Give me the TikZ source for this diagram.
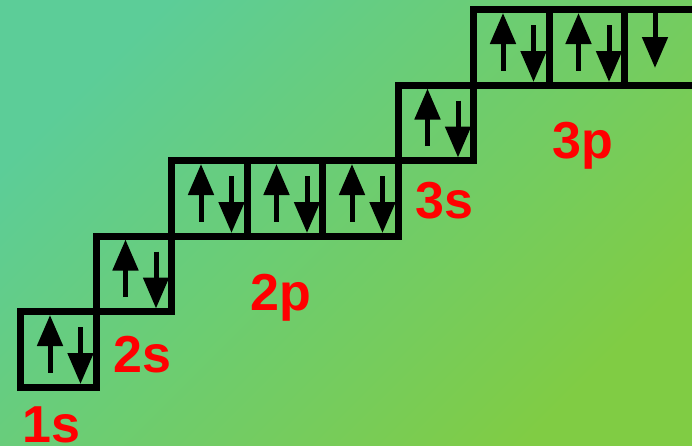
\documentclass[tikz,border=0pt]{standalone}
\usepackage{fontspec}
\setmainfont{Liberation Sans}
\usepackage{xcolor}
\usepackage{tikz}
\usetikzlibrary{calc,arrows.meta,positioning}
\definecolor{bgA}{RGB}{92,205,152}
\definecolor{bgB}{RGB}{128,204,68}

\begin{document}
\begin{tikzpicture}[x=1pt,y=-1pt,
  orb/.style={draw,line width=7pt,minimum size=75.5pt,inner sep=0pt,outer sep=0pt,anchor=north west},
  spin/.style={line width=5pt,-{Triangle[length=31pt,width=25pt]}},
  lbl/.style={text=red,font=\bfseries\fontsize{52}{52}\selectfont,inner sep=0pt,anchor=base west}]
  \useasboundingbox (0,0) rectangle (692,445);
  \shade[top color=bgA,bottom color=bgB,shading angle=45] (0,0) rectangle (692,445);
  % orbital boxes
  \node [orb] (s1) at (20.5,311.5) {};
  \node [orb] (s2) at (96,236) {};
  \node [orb] (p2a) at (171.5,160.5) {};
  \node [orb] (p2b) at (247,160.5) {};
  \node [orb] (p2c) at (322.5,160.5) {};
  \node [orb] (s3) at (398,85) {};
  \node [orb] (p3a) at (473.5,9.5) {};
  \node [orb] (p3b) at (549,9.5) {};
  \node [orb] (p3c) at (624.5,9.5) {};
  % electrons
  \foreach \b in {s1,s2,p2a,p2b,p2c,s3,p3a,p3b}{
    \draw [spin] ($(\b.north west)+(29.5,61)$) -- ++(0,-57.5);
    \draw [spin] ($(\b.north west)+(60,15.5)$) -- ++(0,57);
  }
  \draw [spin] ($(p3c.north west)+(30.5,3.5)$) -- ++(0,55);
  % labels
  \node [lbl] (l1s) at (22,442) {1s};
  \node [lbl] (l2s) at (113,372) {2s};
  \node [lbl] (l2p) at (250,310) {2p};
  \node [lbl] (l3s) at (415,218) {3s};
  \node [lbl] (l3p) at (552,158) {3p};
\end{tikzpicture}
\end{document}
